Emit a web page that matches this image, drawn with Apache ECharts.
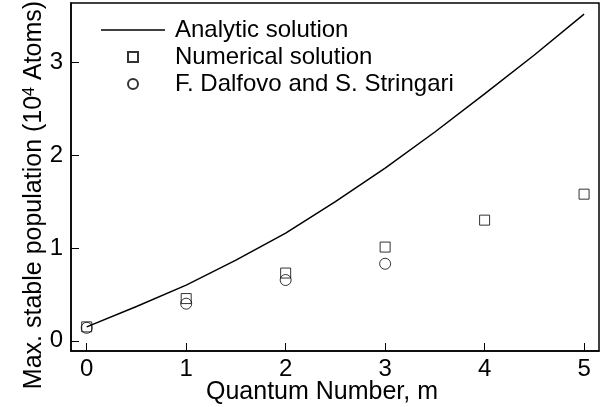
<!DOCTYPE html>
<html>
<head>
    <meta charset="utf-8">
    <title>ECharts</title>
    <script type="text/javascript" src="https://cdn.jsdelivr.net/npm/echarts@6/dist/echarts.min.js"></script>
</head>
<body style="margin:0">
<div id="main" style="width: 608px;height:407px;"></div>
<script type="text/javascript">
    // analytic curve
    var analyticM = [0, 0.5, 1, 1.5, 2, 2.5, 3, 3.5, 4, 4.5, 5];
    var analyticN = [0.15, 0.37, 0.60, 0.87, 1.16, 1.50, 1.86, 2.25, 2.66, 3.08, 3.52];
    // numerical solution (squares)
    var numericalM = [0, 1, 2, 3, 4, 5];
    var numericalN = [0.15, 0.455, 0.73, 1.01, 1.30, 1.58];
    // Dalfovo & Stringari (circles)
    var dalfovoM = [0, 1, 2, 3];
    var dalfovoN = [0.14, 0.40, 0.655, 0.83];

    var font = 'Liberation Sans, Arial, sans-serif';

    function pairs(xs, ys) {
        var out = [];
        for (var i = 0; i < xs.length; i++) out.push([xs[i], ys[i]]);
        return out;
    }
    function intLabel(v) {
        return Math.abs(v - Math.round(v)) < 1e-6 ? String(Math.round(v)) : '';
    }

    var myChart = echarts.init(document.getElementById('main'));
    var option = {
        animation: false,
        textStyle: {fontFamily: font, color: '#000'},
        grid: {
            left: 71, top: 3, right: 9, bottom: 56,
            outerBoundsMode: 'none',
            show: true, borderColor: '#000', borderWidth: 1.5, containLabel: false
        },
        legend: {
            orient: 'vertical',
            left: 96,
            top: 13,
            itemWidth: 64,
            itemHeight: 10,
            itemGap: 3,
            textStyle: {fontFamily: font, fontSize: 24, color: '#000', padding: [0, 0, 0, 5], lineHeight: 24},
            data: [
                {name: 'Analytic solution', icon: 'path://M0 0H64V1.5H0Z'},
                {name: 'Numerical solution', icon: 'path://M0 0H10V10H0Z'},
                {name: 'F. Dalfovo and S. Stringari', icon: 'circle'}
            ]
        },
        xAxis: {
            type: 'value',
            min: -0.158,
            max: 5.15,
            splitNumber: 5,
            name: 'Quantum Number, m',
            nameLocation: 'middle',
            nameMoveOverlap: false,
            nameGap: 29,
            nameTextStyle: {fontFamily: font, fontSize: 25, color: '#000', padding: [0, 26, 0, 0]},
            axisLine: {onZero: false, lineStyle: {color: '#000', width: 1.5}},
            axisTick: {inside: true, length: 8, lineStyle: {color: '#000', width: 1}},
            axisLabel: {
                fontFamily: font, fontSize: 24, color: '#000', margin: 6,
                showMinLabel: false, showMaxLabel: false,
                formatter: intLabel
            },
            splitLine: {show: false}
        },
        yAxis: {
            type: 'value',
            min: -0.11,
            max: 3.64,
            splitNumber: 4,
            name: 'Max. stable population (10{sup|4} Atoms)',
            nameLocation: 'middle',
            nameMoveOverlap: false,
            nameGap: 24,
            nameTextStyle: {
                fontFamily: font, fontSize: 25, color: '#000', padding: [0, 36, 0, 0],
                rich: {sup: {fontFamily: font, fontSize: 16, color: '#000', verticalAlign: 'top'}}
            },
            axisLine: {onZero: false, lineStyle: {color: '#000', width: 1.5}},
            axisTick: {inside: true, length: 8, lineStyle: {color: '#000', width: 1}},
            axisLabel: {
                fontFamily: font, fontSize: 24, color: '#000', margin: 8,
                showMinLabel: false, showMaxLabel: false,
                formatter: intLabel
            },
            splitLine: {show: false}
        },
        series: [
            {
                name: 'Analytic solution',
                type: 'line',
                symbol: 'none',
                lineStyle: {color: '#000', width: 1.5},
                itemStyle: {color: '#000'},
                data: pairs(analyticM, analyticN)
            },
            {
                name: 'Numerical solution',
                type: 'scatter',
                symbol: 'rect',
                symbolSize: 10,
                itemStyle: {color: 'rgba(255,255,255,0)', borderColor: '#000', borderWidth: 1},
                data: pairs(numericalM, numericalN)
            },
            {
                name: 'F. Dalfovo and S. Stringari',
                type: 'scatter',
                symbol: 'circle',
                symbolSize: 11,
                itemStyle: {color: 'rgba(255,255,255,0)', borderColor: '#000', borderWidth: 1},
                data: pairs(dalfovoM, dalfovoN)
            }
        ]
    };
    myChart.setOption(option);
</script>
</body>
</html>
